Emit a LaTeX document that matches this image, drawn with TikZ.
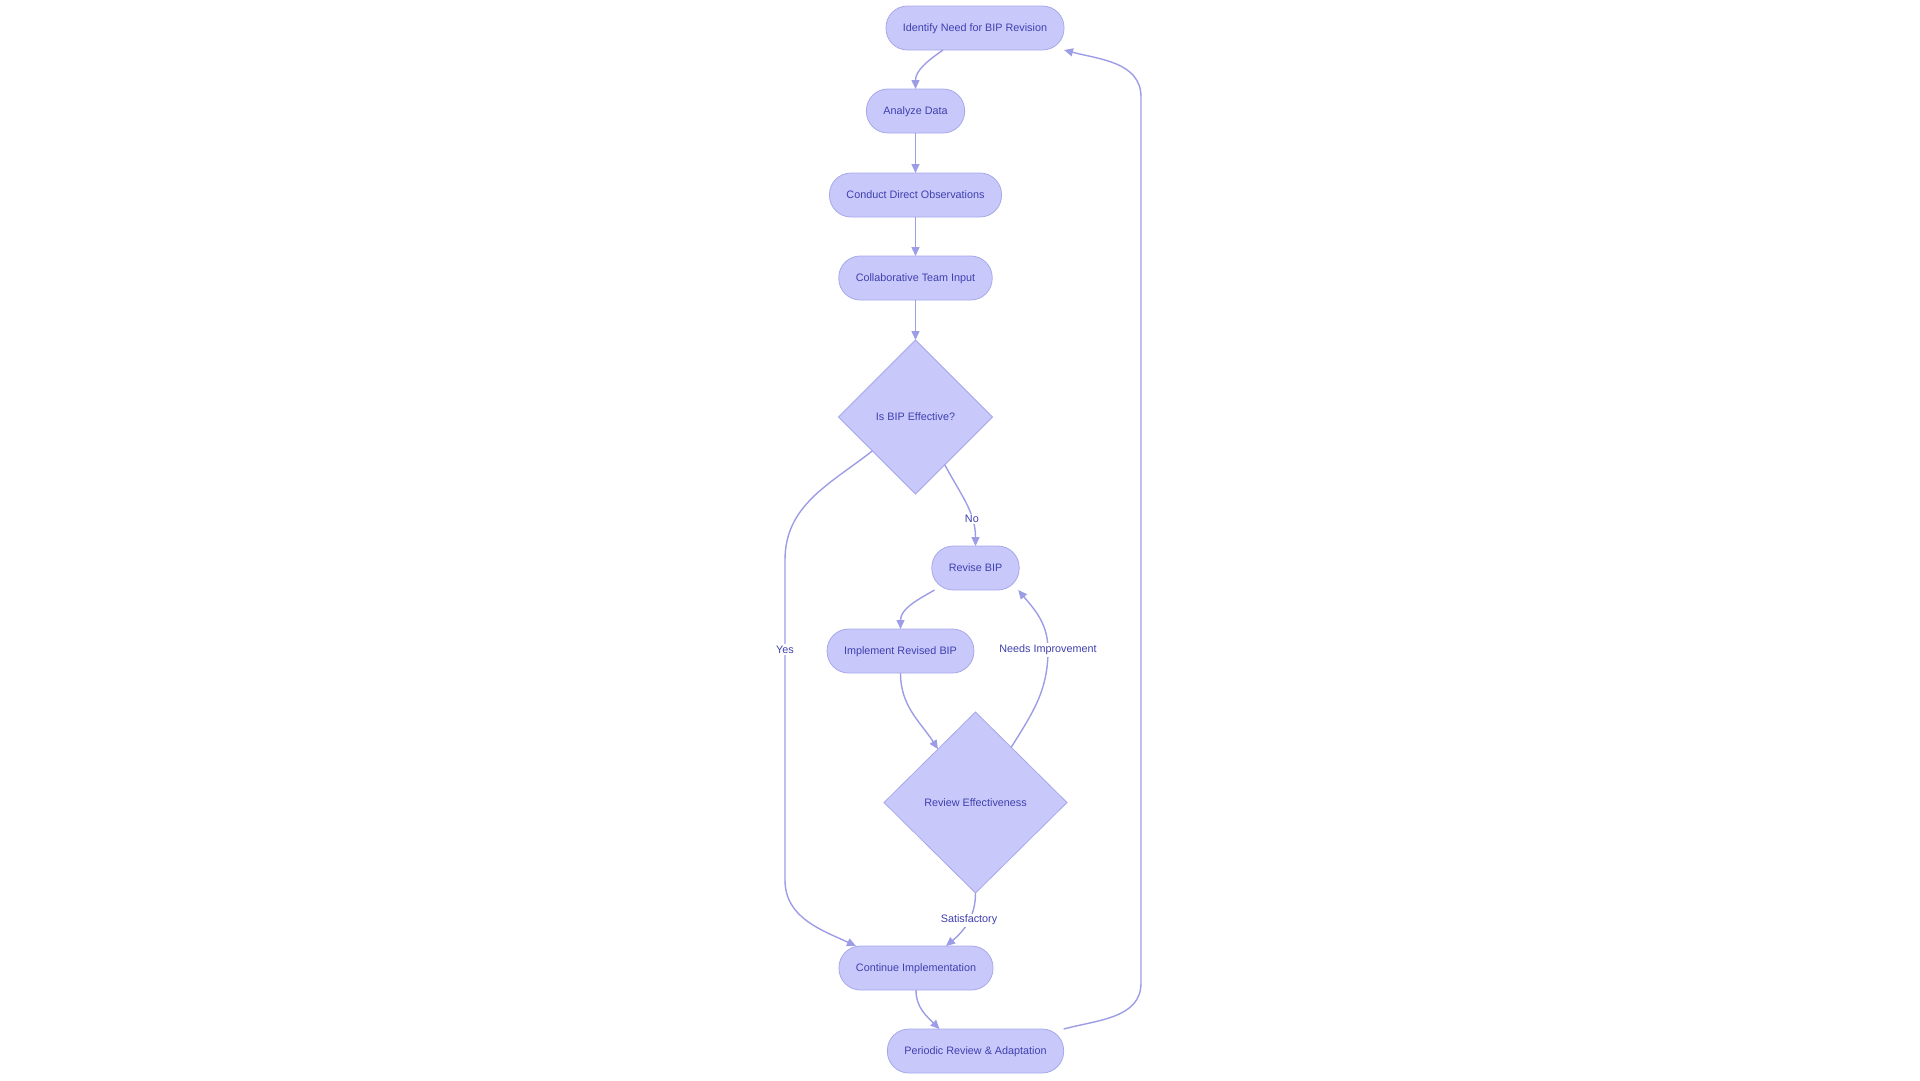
\documentclass[tikz,border=0pt]{standalone}
\usepackage{fontspec}
\setmainfont{Liberation Sans}
\usetikzlibrary{positioning, arrows.meta, shapes.geometric, calc}
\definecolor{boxfill}{HTML}{C8C9FA}
\definecolor{boxline}{HTML}{A7A8EA}
\definecolor{flowline}{HTML}{9D9DE6}
\definecolor{boxtext}{HTML}{3F3FB0}
\tikzset{
  pill/.style     = {draw=boxline, fill=boxfill, rounded corners=21.5pt, minimum height=44pt, inner xsep=17pt, outer sep=0pt, text depth=1pt, text=boxtext, font=\fontsize{10.8}{13}\selectfont, line width=0.8pt},
  decision/.style = {draw=boxline, fill=boxfill, diamond, aspect=1, inner sep=0pt, outer sep=0pt, text=boxtext, font=\fontsize{10.8}{13}\selectfont, line width=0.8pt},
  edgelabel/.style = {fill=white, inner sep=1.5pt, text=boxtext, font=\fontsize{10.8}{13}\selectfont},
  arrow/.style    = {-{Triangle[length=9pt, width=8pt]}, line width=1.4pt, draw=flowline}
}
\begin{document}
\begin{tikzpicture}[x=1pt, y=1pt]
  \useasboundingbox (0,0) rectangle (1920,-1080);
  \node[pill] (idf) at (975,-28) {Identify Need for BIP Revision};
  \node[pill, below=39pt of idf, xshift=-59.5pt] (ana) {Analyze Data};
  \node[pill, below=40pt of ana] (obs) {Conduct Direct Observations};
  \node[pill, below=39pt of obs] (team) {Collaborative Team Input};
  \node[decision, minimum width=154pt, minimum height=154pt, below=40pt of team] (eff) {Is BIP Effective?};
  \node[pill, below=52pt of eff, xshift=60pt] (revise) {Revise BIP};
  \node[pill, below=39pt of revise, xshift=-75pt] (impl) {Implement Revised BIP};
  \node[decision, minimum width=183pt, minimum height=181pt, below=39pt of impl, xshift=75pt] (review) {Review Effectiveness};
  \node[pill, below=53pt of review, xshift=-59.5pt] (cont) {Continue Implementation};
  \node[pill, below=39pt of cont, xshift=59.5pt] (periodic) {Periodic Review \& Adaptation};

  \coordinate (yesA) at (785,-560);
  \coordinate (yesB) at (785,-880);
  \coordinate (needs) at (1048,-650);
  \coordinate (loopA) at (1141,-983);
  \coordinate (loopB) at (1141,-97);

  \draw[arrow] ([xshift=-32pt]idf.south) to[out=215, in=90] (ana.north);
  \draw[arrow] (ana) -- (obs);
  \draw[arrow] (obs) -- (team);
  \draw[arrow] (team) -- (eff);
  \draw[arrow] ($(eff.south)!0.38!(eff.east)$) to[out=-62, in=90] node[edgelabel, pos=0.7] {No} (revise.north);
  \draw[arrow] ($(eff.south)!0.56!(eff.west)$) to[out=218, in=90] (yesA) -- node[edgelabel, pos=0.28] {Yes} (yesB) to[out=270, in=155] ([xshift=17pt]cont.north west);
  \draw[arrow] ([xshift=-41pt]revise.south) to[out=210, in=90] (impl.north);
  \draw[arrow] (impl.south) to[out=270, in=123] ($(review.north)!0.41!(review.west)$);
  \draw[arrow] ($(review.north)!0.39!(review.east)$) to[out=58, in=270] (needs) node[edgelabel] {Needs Improvement} to[out=90, in=-50] ([xshift=-1pt]revise.south east);
  \draw[arrow] (review.south) to[out=270, in=40] node[edgelabel, pos=0.45] {Satisfactory} ([xshift=30pt]cont.north);
  \draw[arrow] (cont.south) to[out=270, in=135] ([xshift=-36pt]periodic.north);
  \draw[arrow] (periodic.north east) to[out=15, in=270] (loopA) -- (loopB) to[out=90, in=-15] (idf.south east);
\end{tikzpicture}
\end{document}
